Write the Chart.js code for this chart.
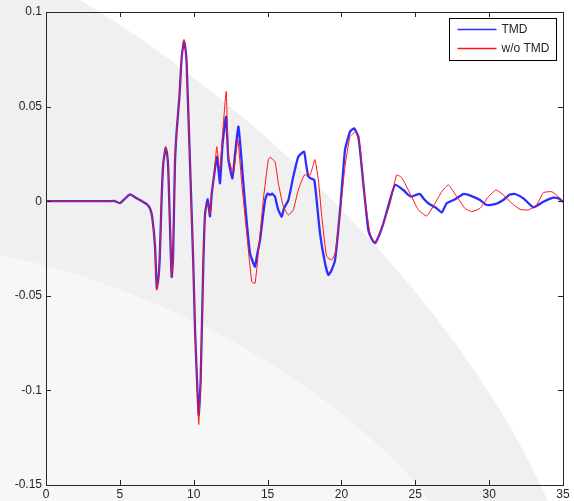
<!DOCTYPE html>
<html>
<head>
<meta charset="utf-8">
<script src="https://cdn.jsdelivr.net/npm/chart.js@4/dist/chart.umd.min.js"></script>
<style>
  body { margin: 0; background: #f0f0f0; }
  #wrap { width: 574px; height: 501px; }
</style>
</head>
<body>
<div id="wrap"><canvas id="chartCanvas" width="574" height="501"></canvas></div>
<script>
// tick labels
const xTickLabels = ["0", "5", "10", "15", "20", "25", "30", "35"];
const yTickLabels = ["-0.15", "-0.1", "-0.05", "0", "0.05", "0.1"];

// TMD response (time in s, displacement)
const tmdX = [0, 4.3, 4.6, 5.0, 5.3, 5.69, 6.14, 6.5, 6.82, 7.05, 7.2, 7.38, 7.5, 7.62, 7.7, 7.83, 7.94, 8.1, 8.2, 8.28, 8.4, 8.51, 8.6, 8.73, 8.85, 9.03, 9.19, 9.34, 9.45, 9.52, 9.75, 9.97, 10.09, 10.25, 10.34, 10.47, 10.65, 10.77, 10.95, 11.1, 11.22, 11.37, 11.56, 11.7, 11.78, 11.95, 12.19, 12.35, 12.62, 12.8, 13.02, 13.15, 13.36, 13.6, 13.81, 14.0, 14.15, 14.3, 14.49, 14.83, 15.0, 15.17, 15.3, 15.5, 15.7, 15.96, 16.1, 16.41, 16.74, 17.08, 17.47, 17.6, 17.76, 17.95, 18.17, 18.55, 18.89, 19.12, 19.3, 19.57, 19.91, 20.24, 20.58, 20.85, 21.15, 21.48, 21.82, 22.05, 22.28, 22.55, 22.84, 23.29, 23.63, 24.19, 24.5, 24.76, 25.1, 25.32, 25.6, 25.88, 26.45, 26.79, 27.13, 27.69, 28.25, 28.82, 29.38, 29.84, 30.4, 30.96, 31.4, 31.75, 32.32, 32.99, 33.67, 34.35, 34.7, 35];
const tmdY = [0, 0, 0.0002, -0.001, 0.001, 0.0036, 0.0015, 0.0, -0.0015, -0.004, -0.009, -0.024, -0.046, -0.04, -0.03, 0.002, 0.02, 0.028, 0.025, 0.0165, -0.015, -0.040, -0.03, 0.02, 0.0376, 0.055, 0.0764, 0.0845, 0.08, 0.0729, 0.02, -0.0328, -0.068, -0.0998, -0.113, -0.0945, -0.0328, -0.0064, 0.001, -0.008, 0.004, 0.013, 0.0235, 0.015, 0.0095, 0.03, 0.0447, 0.022, 0.012, 0.025, 0.0394, 0.03, 0.0095, -0.012, -0.0275, -0.032, -0.0346, -0.028, -0.0205, 0.0006, 0.004, 0.0033, 0.004, 0.0024, -0.004, -0.0082, -0.004, 0.0006, 0.013, 0.0235, 0.0262, 0.02, 0.013, 0.012, 0.0112, -0.017, -0.0328, -0.039, -0.037, -0.031, -0.0046, 0.027, 0.0367, 0.0385, 0.034, 0.0095, -0.0152, -0.02, -0.0222, -0.018, -0.0117, 0.0006, 0.0086, 0.0059, 0.0035, 0.0024, 0.0035, 0.0038, 0.001, -0.0011, -0.0038, -0.006, -0.0011, 0.001, 0.0038, 0.0027, 0.0006, -0.002, -0.0016, 0.0006, 0.0035, 0.0038, 0.0015, -0.0032, -0.0003, 0.0019, 0.0015, -0.0003];

// without TMD
const woX = [0, 4.3, 4.6, 5.0, 5.3, 5.69, 6.14, 6.5, 6.82, 7.05, 7.2, 7.38, 7.5, 7.62, 7.7, 7.83, 7.94, 8.1, 8.2, 8.28, 8.4, 8.51, 8.6, 8.73, 8.85, 9.03, 9.19, 9.34, 9.45, 9.52, 9.75, 9.97, 10.09, 10.25, 10.34, 10.47, 10.65, 10.77, 10.95, 11.1, 11.22, 11.37, 11.56, 11.7, 11.78, 11.95, 12.2, 12.35, 12.68, 12.98, 13.25, 13.59, 13.93, 14.15, 14.37, 14.71, 15.05, 15.17, 15.5, 15.73, 16.07, 16.41, 16.74, 17.08, 17.49, 17.87, 18.05, 18.21, 18.44, 18.67, 19.0, 19.34, 19.57, 19.91, 20.24, 20.58, 20.97, 21.26, 21.6, 21.94, 22.28, 22.84, 23.29, 23.74, 24.08, 24.64, 25.21, 25.77, 26.34, 26.79, 27.24, 27.81, 28.37, 28.82, 29.38, 29.95, 30.47, 30.96, 31.53, 32.09, 32.66, 33.22, 33.67, 34.24, 34.69, 35];
const woY = [0, 0, 0.0002, -0.001, 0.001, 0.0036, 0.0015, 0.0, -0.0015, -0.004, -0.009, -0.024, -0.047, -0.04, -0.03, 0.002, 0.02, 0.029, 0.025, 0.0165, -0.015, -0.040, -0.03, 0.02, 0.0376, 0.055, 0.0764, 0.0855, 0.08, 0.0729, 0.02, -0.0328, -0.068, -0.0998, -0.118, -0.0945, -0.0328, -0.0064, -0.001, -0.007, 0.004, 0.013, 0.0288, 0.02, 0.0165, 0.035, 0.058, 0.0235, 0.0147, 0.0323, 0.0095, -0.017, -0.0425, -0.0434, -0.0275, 0.0006, 0.0218, 0.0232, 0.0209, 0.0095, -0.0029, -0.0073, -0.0046, 0.0059, 0.0138, 0.0138, 0.018, 0.022, 0.0112, -0.0082, -0.0293, -0.031, -0.0275, -0.0064, 0.0182, 0.034, 0.0367, 0.0288, 0.0006, -0.017, -0.022, -0.012, -0.001, 0.0138, 0.0125, 0.0042, -0.0046, -0.0078, -0.0011, 0.005, 0.0086, 0.0024, -0.0038, -0.0055, -0.0038, 0.0024, 0.0059, 0.0033, -0.0011, -0.0043, -0.0046, -0.002, 0.0045, 0.005, 0.0024, -0.0008];

const toPoints = (xs, ys) => xs.map((x, i) => ({ x: x, y: ys[i] }));

const AXIS_COLOR = "#262626";
const FONT = "'Liberation Sans', Arial, sans-serif";

/* ----------------------------------------
   BACKGROUND (figure grey + faded watermark)
---------------------------------------- */
const backgroundPlugin = {
    id: "bg",
    beforeDraw(chart) {
        const ctx = chart.ctx;
        ctx.save();
        ctx.fillStyle = "#f0f0f0";
        ctx.fillRect(0, 0, chart.width, chart.height);
        // white area outside the watermark disc
        ctx.fillStyle = "#ffffff";
        ctx.beginPath();
        ctx.moveTo(80, 0);
        ctx.lineTo(574, 0);
        ctx.lineTo(574, 501);
        ctx.lineTo(548, 501);
        ctx.bezierCurveTo(460, 300, 250, 100, 80, 0);
        ctx.closePath();
        ctx.fill();
        // lighter ring at the bottom left
        ctx.fillStyle = "#f7f7f7";
        ctx.beginPath();
        ctx.moveTo(0, 255);
        ctx.bezierCurveTo(150, 285, 330, 375, 430, 501);
        ctx.lineTo(0, 501);
        ctx.closePath();
        ctx.fill();
        ctx.restore();
    }
};

/* ----------------------------------------
   AXES BOX, INWARD TICKS, LEGEND
---------------------------------------- */
const boxPlugin = {
    id: "box",
    afterDraw(chart) {
        const ctx = chart.ctx;
        const a = chart.chartArea;
        const xs = chart.scales.x;
        const ys = chart.scales.y;
        ctx.save();
        ctx.strokeStyle = AXIS_COLOR;
        ctx.lineWidth = 1;
        ctx.strokeRect(Math.round(a.left) + 0.5, Math.round(a.top) + 0.5,
            Math.round(a.right - a.left), Math.round(a.bottom - a.top));
        ctx.beginPath();
        xs.ticks.forEach(t => {
            const px = Math.round(xs.getPixelForValue(t.value)) + 0.5;
            ctx.moveTo(px, a.bottom); ctx.lineTo(px, a.bottom - 5);
            ctx.moveTo(px, a.top); ctx.lineTo(px, a.top + 5);
        });
        ys.ticks.forEach(t => {
            const py = Math.round(ys.getPixelForValue(t.value)) + 0.5;
            ctx.moveTo(a.left, py); ctx.lineTo(a.left + 5, py);
            ctx.moveTo(a.right, py); ctx.lineTo(a.right - 5, py);
        });
        ctx.stroke();

        // legend box
        const bx = a.right - 113.5, by = a.top + 6.5, bw = 107, bh = 42;
        ctx.fillStyle = "#ffffff";
        ctx.fillRect(bx, by, bw, bh);
        ctx.strokeStyle = "#000000";
        ctx.strokeRect(bx, by, bw, bh);
        ctx.font = "12px " + FONT;
        ctx.textBaseline = "middle";
        ctx.fillStyle = AXIS_COLOR;
        chart.data.datasets.forEach((ds, i) => {
            const ly = by + 11 + i * 19;
            ctx.strokeStyle = ds.borderColor;
            ctx.lineWidth = 1.5;
            ctx.beginPath();
            ctx.moveTo(bx + 8, ly);
            ctx.lineTo(bx + 47, ly);
            ctx.stroke();
            ctx.fillText(ds.label, bx + 52, ly);
        });
        ctx.restore();
    }
};

const ctx = document.getElementById("chartCanvas").getContext("2d");

new Chart(ctx, {
    type: "line",
    data: {
        datasets: [
            {
                label: "TMD",
                data: toPoints(tmdX, tmdY),
                borderColor: "rgb(45,45,255)",
                borderWidth: 2.3,
                pointRadius: 0,
                tension: 0.15,
                order: 1
            },
            {
                label: "w/o TMD",
                data: toPoints(woX, woY),
                borderColor: "rgb(255,20,20)",
                borderWidth: 1,
                pointRadius: 0,
                tension: 0.15,
                order: 0
            }
        ]
    },
    options: {
        responsive: false,
        animation: false,
        layout: { padding: { top: 12, right: 11, left: 0, bottom: 0 } },
        plugins: {
            legend: { display: false },
            tooltip: { enabled: false }
        },
        scales: {
            x: {
                type: "linear",
                min: 0,
                max: 35,
                grid: { display: false, drawTicks: false },
                border: { display: false },
                ticks: {
                    stepSize: 5,
                    padding: 2,
                    maxRotation: 0,
                    color: AXIS_COLOR,
                    font: { family: FONT, size: 12 },
                    callback: (v, i) => xTickLabels[i]
                },
                afterFit: s => { s.height = 16; }
            },
            y: {
                type: "linear",
                min: -0.15,
                max: 0.1,
                grid: { display: false, drawTicks: false },
                border: { display: false },
                ticks: {
                    stepSize: 0.05,
                    padding: 4,
                    color: AXIS_COLOR,
                    font: { family: FONT, size: 12 },
                    callback: (v, i) => yTickLabels[i]
                },
                afterFit: s => { s.width = 46; }
            }
        }
    },
    plugins: [backgroundPlugin, boxPlugin]
});
</script>
</body>
</html>
